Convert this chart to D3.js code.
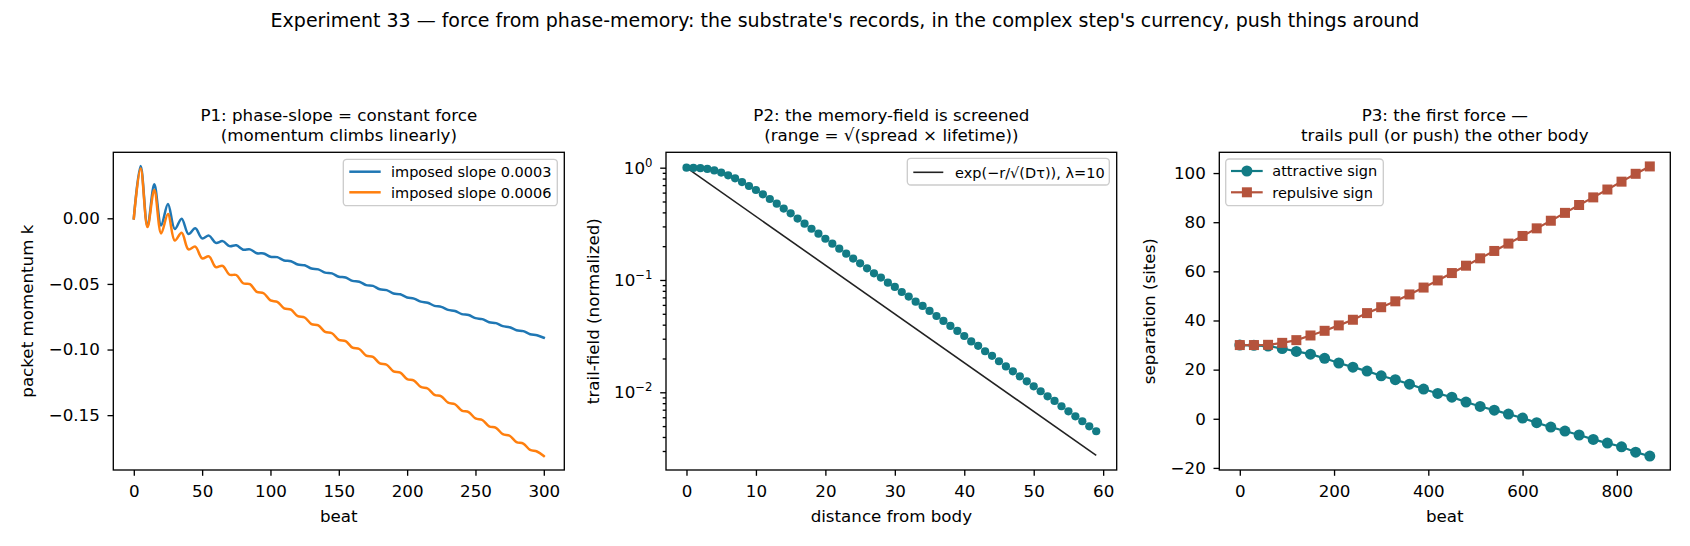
<!DOCTYPE html>
<html><head><meta charset="utf-8">
<script src="https://cdn.jsdelivr.net/npm/d3@7"></script>
<style>body{margin:0;background:#fff} svg text{font-family:"DejaVu Sans",sans-serif}</style>
</head><body><svg id="c" width="1690" height="546"></svg>
<script>
// ---------------- data ----------------
const p1Beat = [0,5,10,15,20,25,30,35,40,45,50,55,60,65,70,75,80,85,90,95,100,105,110,115,120,125,130,135,140,145,150,155,160,165,170,175,180,185,190,195,200,205,210,215,220,225,230,235,240,245,250,255,260,265,270,275,280,285,290,295,300];
const p1Slope3 = [0,0.0399,-0.0059,0.0259,-0.0055,0.0109,-0.0082,-0.0003,-0.0120,-0.0076,-0.0153,-0.0132,-0.0187,-0.0174,-0.0212,-0.0206,-0.0239,-0.0237,-0.0266,-0.0268,-0.0293,-0.0296,-0.0321,-0.0327,-0.0352,-0.0358,-0.0383,-0.0389,-0.0414,-0.0420,-0.0445,-0.0451,-0.0477,-0.0483,-0.0509,-0.0515,-0.0541,-0.0547,-0.0573,-0.0579,-0.0604,-0.0612,-0.0635,-0.0643,-0.0667,-0.0675,-0.0698,-0.0706,-0.0730,-0.0737,-0.0761,-0.0768,-0.0792,-0.0799,-0.0822,-0.0830,-0.0853,-0.0860,-0.0883,-0.0891,-0.0910];
const p1Slope6 = [0,0.0381,-0.0067,0.0216,-0.0115,0.0033,-0.0170,-0.0110,-0.0237,-0.0216,-0.0305,-0.0290,-0.0372,-0.0362,-0.0430,-0.0432,-0.0495,-0.0502,-0.0561,-0.0571,-0.0626,-0.0636,-0.0686,-0.0696,-0.0746,-0.0756,-0.0806,-0.0816,-0.0866,-0.0876,-0.0926,-0.0936,-0.0986,-0.0996,-0.1046,-0.1056,-0.1106,-0.1116,-0.1166,-0.1176,-0.1225,-0.1237,-0.1285,-0.1297,-0.1345,-0.1357,-0.1405,-0.1417,-0.1465,-0.1477,-0.1525,-0.1537,-0.1585,-0.1597,-0.1645,-0.1657,-0.1705,-0.1717,-0.1765,-0.1777,-0.1812];
const p1Names = ["imposed slope 0.0003","imposed slope 0.0006"];
const p1XTicks = [0,50,100,150,200,250,300];
const p1YTicks = [0,-0.05,-0.10,-0.15];

const p2Dist = [0,1,2,3,4,5,6,7,8,9,10,11,12,13,14,15,16,17,18,19,20,21,22,23,24,25,26,27,28,29,30,31,32,33,34,35,36,37,38,39,40,41,42,43,44,45,46,47,48,49,50,51,52,53,54,55,56,57,58,59];
const p2Trail = [1.0,0.995,0.99,0.975,0.945,0.905,0.855,0.804,0.745,0.687,0.633,0.579,0.526,0.478,0.432,0.392,0.352,0.317,0.286,0.2585,0.233,0.2106,0.190,0.1715,0.155,0.1407,0.127,0.1147,0.105,0.0947,0.0867,0.0782,0.0711,0.0641,0.0587,0.0530,0.0478,0.0432,0.0390,0.0352,0.0317,0.0284,0.0259,0.0232,0.0211,0.0189,0.0170,0.01538,0.01388,0.01253,0.01130,0.01021,0.00921,0.00837,0.00751,0.00677,0.00611,0.00552,0.00498,0.00450];
const p2FitDist = [0,59];
const p2FitVal = [1.0,0.00274];
const p2Name = "exp(\u2212r/\u221a(D\u03c4)), \u03bb=10";
const p2XTicks = [0,10,20,30,40,50,60];
const p2YTicks = [1,0.1,0.01];
const p2YExp = ["0","\u22121","\u22122"];

const p3Beat = [0,30,60,90,120,150,180,210,240,270,300,330,360,390,420,450,480,510,540,570,600,630,660,690,720,750,780,810,840,870];
const p3Attr = [30.0,29.9,29.6,28.6,27.4,26.3,24.6,22.7,21.0,19.4,17.5,15.9,14.1,12.1,10.3,8.8,6.8,5.0,3.5,1.9,0.3,-1.6,-3.4,-5.0,-6.6,-8.4,-9.9,-11.4,-13.6,-15.2];
const p3Rep = [30.0,30.0,30.1,30.9,32.0,33.9,35.8,38.0,40.3,43.0,45.4,47.8,50.6,53.4,56.3,59.3,62.3,65.3,68.3,71.3,74.4,77.5,80.6,83.8,87.0,90.1,93.3,96.5,99.7,102.7];
const p3Names = ["attractive sign","repulsive sign"];
const p3XTicks = [0,200,400,600,800];
const p3YTicks = [-20,0,20,40,60,80,100];

// ---------------- layout / style ----------------
const FS = 16.7, LFS = 14.5;
const TEAL = "#127b85", BRICK = "#b5533c", BLUE = "#1f77b4", ORANGE = "#ff7f0e";
const TOP = 152.3, BOT = 470;
const P = [{l:113.3,r:564.3},{l:666,r:1116.7},{l:1219.3,r:1670.3}];

const svg = d3.select("#c");
svg.append("rect").attr("width",1690).attr("height",546).attr("fill","#fff");

svg.append("text").attr("x",845).attr("y",26.5).attr("text-anchor","middle")
  .attr("font-size",19).text("Experiment 33 \u2014 force from phase-memory: the substrate's records, in the complex step's currency, push things around");

function styleAxis(g){
  g.attr("font-family","DejaVu Sans").attr("font-size",FS);
  g.select("path.domain").remove();
  g.selectAll(".tick line").attr("stroke","#000").attr("stroke-width",1.33);
  g.selectAll(".tick text").attr("fill","#000");
}
function xAxis(x, ticks, fmt){
  const g = svg.append("g").attr("transform",`translate(0,${BOT})`)
    .call(d3.axisBottom(x).tickValues(ticks).tickSize(5.8).tickFormat(fmt));
  styleAxis(g);
  g.selectAll(".tick text").attr("y",27.3).attr("dy",null);
  return g;
}
function yAxis(y, ticks, fmt, x0){
  const g = svg.append("g").attr("transform",`translate(${x0},0)`)
    .call(d3.axisLeft(y).tickValues(ticks).tickSize(5.8).tickFormat(fmt));
  styleAxis(g);
  g.selectAll(".tick text").attr("x",-13.5);
  return g;
}
function frame(p){
  svg.append("rect").attr("x",p.l).attr("y",TOP).attr("width",p.r-p.l).attr("height",BOT-TOP)
    .attr("fill","none").attr("stroke","#000").attr("stroke-width",1.33);
}
function titles(p, l1, l2){
  const cx = (p.l+p.r)/2;
  svg.append("text").attr("x",cx).attr("y",121).attr("text-anchor","middle").attr("font-size",FS).text(l1);
  svg.append("text").attr("x",cx).attr("y",141).attr("text-anchor","middle").attr("font-size",FS).text(l2);
}
function xlabel(p, t){
  svg.append("text").attr("x",(p.l+p.r)/2).attr("y",522.3).attr("text-anchor","middle").attr("font-size",FS).text(t);
}
function ylabel(bx, t){
  const cy = (TOP+BOT)/2;
  svg.append("text").attr("transform",`translate(${bx},${cy}) rotate(-90)`).attr("text-anchor","middle").attr("font-size",FS).text(t);
}
function legendBox(x0,x1,y0,y1){
  svg.append("rect").attr("x",x0).attr("y",y0).attr("width",x1-x0).attr("height",y1-y0)
    .attr("rx",3.5).attr("fill","#fff").attr("fill-opacity",0.8).attr("stroke","#cccccc").attr("stroke-width",1.33);
}

// ---------------- P1 ----------------
{
  const p = P[0];
  const x = d3.scaleLinear().domain([-15,315]).range([p.l,p.r]);
  const y = d3.scaleLinear().domain([-0.1918,0.0503]).range([BOT,TOP]);
  const line = d3.line().x((d,i)=>x(p1Beat[i])).y(d=>y(d)).curve(d3.curveCatmullRom.alpha(0.5));
  [[p1Slope3,BLUE],[p1Slope6,ORANGE]].forEach(([s,c])=>{
    svg.append("path").datum(s).attr("d",line).attr("fill","none").attr("stroke",c)
      .attr("stroke-width",2.5).attr("stroke-linejoin","round").attr("stroke-linecap","square");
  });
  xAxis(x,p1XTicks,d3.format("d"));
  yAxis(y,p1YTicks,d3.format(".2f"),p.l);
  frame(p);
  titles(p,"P1: phase-slope = constant force","(momentum climbs linearly)");
  xlabel(p,"beat");
  ylabel(33.4,"packet momentum k");
  legendBox(343.3,557.3,159.3,205.7);
  [[171.7,BLUE],[192.3,ORANGE]].forEach(([ry,c],i)=>{
    svg.append("line").attr("x1",349.3).attr("x2",380.7).attr("y1",ry).attr("y2",ry).attr("stroke",c).attr("stroke-width",2.5);
    svg.append("text").attr("x",391).attr("y",ry+5.2).attr("font-size",LFS).text(p1Names[i]);
  });
}

// ---------------- P2 ----------------
{
  const p = P[1];
  const x = d3.scaleLinear().domain([-2.95,61.95]).range([p.l,p.r]);
  const y = d3.scaleLog().domain([Math.pow(10,-2.692),Math.pow(10,0.137)]).range([BOT,TOP]);
  const fit = d3.line().x((d,i)=>x(p2FitDist[i])).y(d=>y(d));
  svg.append("path").datum(p2FitVal).attr("d",fit).attr("fill","none").attr("stroke","#222").attr("stroke-width",1.6);
  svg.append("g").selectAll("circle").data(p2Trail).join("circle")
    .attr("cx",(d,i)=>x(p2Dist[i])).attr("cy",d=>y(d)).attr("r",4.1).attr("fill",TEAL);
  xAxis(x,p2XTicks,d3.format("d"));
  const minor = [];
  [0.001,0.01,0.1,1].forEach(b=>{for(let k=2;k<=9;k++){const v=b*k; if(v>y.domain()[0]&&v<y.domain()[1]) minor.push(v);}});
  const gm = svg.append("g").attr("transform",`translate(${p.l},0)`)
    .call(d3.axisLeft(y).tickValues(minor).tickSize(3.3).tickFormat(""));
  styleAxis(gm);
  const ga = yAxis(y,p2YTicks,()=>"",p.l);
  ga.selectAll(".tick text").each(function(d,i){
    const t = d3.select(this).attr("x",-13.5);
    t.append("tspan").text("10");
    t.append("tspan").attr("font-size",11.7).attr("dy",-7).text(p2YExp[i]);
  });
  frame(p);
  titles(p,"P2: the memory-field is screened","(range = \u221a(spread \u00d7 lifetime))");
  xlabel(p,"distance from body");
  ylabel(598.5,"trail-field (normalized)");
  legendBox(907.3,1109.3,158.3,185);
  svg.append("line").attr("x1",913.3).attr("x2",943.3).attr("y1",172.3).attr("y2",172.3).attr("stroke","#222").attr("stroke-width",1.6);
  svg.append("text").attr("x",955).attr("y",177.5).attr("font-size",LFS).text(p2Name);
}

// ---------------- P3 ----------------
{
  const p = P[2];
  const x = d3.scaleLinear().domain([-43.5,913.5]).range([p.l,p.r]);
  const y = d3.scaleLinear().domain([-20.85,108.45]).range([BOT,TOP]);
  const line = d3.line().x((d,i)=>x(p3Beat[i])).y(d=>y(d));
  svg.append("path").datum(p3Attr).attr("d",line).attr("fill","none").attr("stroke",TEAL).attr("stroke-width",2.2);
  svg.append("g").selectAll("circle").data(p3Attr).join("circle")
    .attr("cx",(d,i)=>x(p3Beat[i])).attr("cy",d=>y(d)).attr("r",5.5).attr("fill",TEAL);
  svg.append("path").datum(p3Rep).attr("d",line).attr("fill","none").attr("stroke",BRICK).attr("stroke-width",2.2);
  svg.append("g").selectAll("rect").data(p3Rep).join("rect")
    .attr("x",(d,i)=>x(p3Beat[i])-5).attr("y",d=>y(d)-5).attr("width",10).attr("height",10).attr("fill",BRICK);
  xAxis(x,p3XTicks,d3.format("d"));
  yAxis(y,p3YTicks,d3.format("d"),p.l);
  frame(p);
  titles(p,"P3: the first force \u2014","trails pull (or push) the other body");
  xlabel(p,"beat");
  ylabel(1154.5,"separation (sites)");
  legendBox(1225.7,1383.3,159,205.7);
  [[171,TEAL,"c"],[192.3,BRICK,"s"]].forEach(([ry,c,m],i)=>{
    svg.append("line").attr("x1",1231).attr("x2",1262.7).attr("y1",ry).attr("y2",ry).attr("stroke",c).attr("stroke-width",2.2);
    if(m==="c") svg.append("circle").attr("cx",1246.9).attr("cy",ry).attr("r",5.5).attr("fill",c);
    else svg.append("rect").attr("x",1241.9).attr("y",ry-5).attr("width",10).attr("height",10).attr("fill",c);
    svg.append("text").attr("x",1272.3).attr("y",ry+5.2).attr("font-size",LFS).text(p3Names[i]);
  });
}
</script></body></html>
